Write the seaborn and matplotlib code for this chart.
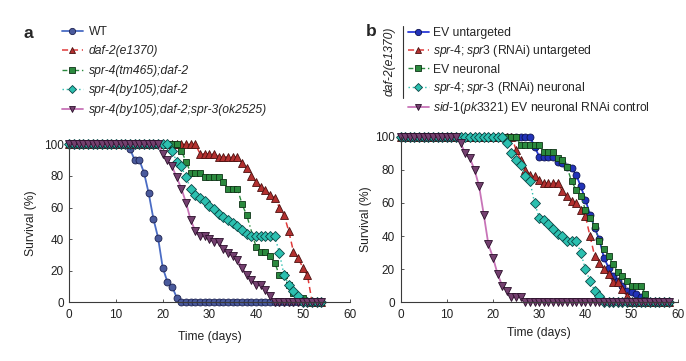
import matplotlib
matplotlib.use("Agg")
import matplotlib.pyplot as plt
import seaborn as sns
from matplotlib.lines import Line2D

sns.set_style("ticks")
plt.rcParams['font.family'] = ['Liberation Sans', 'DejaVu Sans']
plt.rcParams['mathtext.fontset'] = 'custom'
plt.rcParams['mathtext.rm'] = 'Liberation Sans'
plt.rcParams['mathtext.it'] = 'Liberation Sans:italic'
plt.rcParams['mathtext.bf'] = 'Liberation Sans:bold'

# ---------------- data: panel a ----------------
days_a = list(range(0, 55))
days_a_tm465 = list(range(0, 39)) + list(range(40, 55))

wt_surv = [100] * 13 + [97, 90, 90, 82, 69, 53, 41, 22, 13, 10, 3] + [0] * 31
daf2_surv = ([100] * 28 + [94] * 4 + [92] * 5 +
             [88, 85, 80, 76, 73, 71, 68, 66, 60, 55, 45, 32, 28, 22, 17] + [0] * 3)
tm465_surv = ([100] * 24 +
              [96, 89, 82, 82, 82, 79, 79, 79, 79, 76, 72, 72, 72, 62, 55] +
              [35, 32, 32, 29, 25, 17, 17, 11, 6, 3, 3] + [0] * 4)
by105_surv = ([100] * 22 +
              [96, 89, 86, 79, 72, 68, 66, 64, 61, 59, 56, 54, 52, 50, 48, 46, 43] +
              [42] * 6 + [31, 17, 11, 7, 4] + [0] * 5)
spr3_surv = ([100] * 20 +
             [94, 90, 86, 79, 72, 63, 52, 45, 42, 42, 40, 38, 38, 34, 31, 29, 27, 22,
              17, 14, 11, 11, 8, 4] + [0] * 11)

labels_a = ["WT", "daf-2(e1370)", "spr-4(tm465);daf-2", "spr-4(by105);daf-2",
            "spr-4(by105);daf-2;spr-3(ok2525)"]

# ---------------- data: panel b ----------------
days_b = list(range(0, 59))
ev_unt_surv = ([100] * 29 +
               [94, 88, 88, 88, 88, 85, 84, 82, 81, 77, 70, 62, 53, 45, 38, 27, 21, 16,
                13, 10, 7, 6, 5, 3] + [0] * 6)
rnai_unt_surv = ([100] * 25 +
                 [92, 86, 80, 77, 76, 74, 72, 72, 72, 72, 67, 64, 61, 60, 56, 52, 40, 28,
                  24, 20, 17, 12, 12, 8, 4] + [0] * 9)
ev_neu_surv = ([100] * 26 + [95] * 5 + [91] * 3 +
               [87, 86, 82, 73, 68, 64, 56, 51, 46, 37, 32, 28, 23, 18, 16, 13] +
               [10] * 3 + [5] + [0] * 5)
rnai_neu_surv = ([100] * 23 +
                 [96, 90, 86, 83, 76, 73, 60, 51, 50, 47, 44, 41, 40] +
                 [37] * 3 + [30, 20, 13, 7, 4] + [0] * 15)
sid1_surv = ([100] * 13 +
             [96, 90, 87, 80, 70, 53, 35, 27, 17, 10, 7, 3, 3, 3] + [0] * 32)

labels_b = ["EV untargeted",
            r"$\mathit{spr}$-$\mathit{4;spr3}$ (RNAi) untargeted",
            "EV neuronal",
            r"$\mathit{spr}$-$\mathit{4;spr}$-$\mathit{3}$ (RNAi) neuronal",
            r"$\mathit{sid}$-$\mathit{1(pk3321)}$ EV neuronal RNAi control"]

# ---------------- styles ----------------
dashdot = (0, (3.5, 2, 1, 2))
styles_a = [
    dict(marker='o', markersize=5, markerfacecolor='#4a5a9c', markeredgecolor='#1c2150',
         color='#4a6cc4', linestyle='-', linewidth=1.3),
    dict(marker='^', markersize=5.5, markerfacecolor='#b3302f', markeredgecolor='#4a1010',
         color='#e03a3a', linestyle=(0, (4, 2.5)), linewidth=1.1),
    dict(marker='s', markersize=5, markerfacecolor='#2b8a3e', markeredgecolor='#0e3316',
         color='#2b8a3e', linestyle=dashdot, linewidth=1.0),
    dict(marker='D', markersize=4.6, markerfacecolor='#2cc0b0', markeredgecolor='#0b4444',
         color='#2cc0b0', linestyle=(0, (1, 2)), linewidth=1.0),
    dict(marker='v', markersize=5.5, markerfacecolor='#74406f', markeredgecolor='#2a0f2a',
         color='#c874b8', linestyle='-', linewidth=1.3),
]
styles_b = [
    dict(marker='o', markersize=5, markerfacecolor='#2233b8', markeredgecolor='#0c1250',
         color='#2a3ad8', linestyle='-', linewidth=1.3),
    dict(marker='^', markersize=5.5, markerfacecolor='#b3302f', markeredgecolor='#4a1010',
         color='#e03a3a', linestyle=(0, (4, 2.5)), linewidth=1.1),
    dict(marker='s', markersize=5, markerfacecolor='#2b8a3e', markeredgecolor='#0e3316',
         color='#2b8a3e', linestyle=dashdot, linewidth=1.0),
    dict(marker='D', markersize=4.6, markerfacecolor='#2cc0b0', markeredgecolor='#0b4444',
         color='#2cc0b0', linestyle=(0, (1, 2)), linewidth=1.0),
    dict(marker='v', markersize=5.5, markerfacecolor='#74406f', markeredgecolor='#2a0f2a',
         color='#c874b8', linestyle='-', linewidth=1.3),
]

series_a = [(days_a, wt_surv), (days_a, daf2_surv), (days_a_tm465, tm465_surv),
            (days_a, by105_surv), (days_a, spr3_surv)]
series_b = [(days_b, ev_unt_surv), (days_b, rnai_unt_surv), (days_b, ev_neu_surv),
            (days_b, rnai_neu_surv), (days_b, sid1_surv)]

# ---------------- figure ----------------
W, H = 686, 361
fig = plt.figure(figsize=(W / 100, H / 100), dpi=100)


def px_axes(x0, x1, ytop, ybot):
    return fig.add_axes([x0 / W, (H - ybot) / H, (x1 - x0) / W, (ybot - ytop) / H])


ax_a = px_axes(69.3, 349.5, 144.3, 302.3)
ax_b = px_axes(400.6, 677.8, 136.7, 302.3)

for ax, series, styles in [(ax_a, series_a, styles_a), (ax_b, series_b, styles_b)]:
    for (d, s), st in zip(series, styles):
        sns.lineplot(x=d, y=s, ax=ax, estimator=None, sort=False, errorbar=None,
                     legend=False, markeredgewidth=0.6, clip_on=False, **st)
    ax.set_xlim(0, 60)
    ax.set_ylim(0, 100)
    ax.set_xticks(range(0, 61, 10))
    ax.set_yticks(range(0, 101, 20))
    sns.despine(ax=ax)
    for sp in ("left", "bottom"):
        ax.spines[sp].set_color('#3a3a3a')
        ax.spines[sp].set_linewidth(0.8)
    ax.tick_params(direction='in', length=2.5, width=0.6, labelsize=8.5,
                   color='#3a3a3a', labelcolor='#222222')
    ax.tick_params(axis='x', pad=5)
    ax.tick_params(axis='y', pad=4)
    ax.set_xlabel("Time (days)", fontsize=8.7, color='#222222')
    ax.set_ylabel("Survival (%)", fontsize=8.7, color='#222222')

ax_a.xaxis.labelpad = 7
ax_a.yaxis.labelpad = 5
ax_b.xaxis.labelpad = 4
ax_b.yaxis.labelpad = 2

# legends
leg_a = fig.legend(ax_a.lines[:5], labels_a, loc='upper left',
                   bbox_to_anchor=(62 / W, 1 - 26 / H), frameon=False, fontsize=8.7,
                   handlelength=1.7, handletextpad=0.5, labelspacing=0.62,
                   borderpad=0, borderaxespad=0, numpoints=1, markerscale=0.9)
for t in leg_a.get_texts()[1:]:
    t.set_fontstyle('italic')

leg_b = fig.legend(ax_b.lines[:5], labels_b, loc='upper left',
                   bbox_to_anchor=(408 / W, 1 - 27 / H), frameon=False, fontsize=8.7,
                   handlelength=1.7, handletextpad=0.35, labelspacing=0.36,
                   borderpad=0, borderaxespad=0, numpoints=1, markerscale=0.9)

fig.add_artist(Line2D([403 / W, 403 / W], [1 - 26 / H, 1 - 98 / H],
                      transform=fig.transFigure, color='#333333', linewidth=0.8))
fig.text(390 / W, 1 - 61 / H, "daf-2(e1370)", rotation=90, style='italic',
         ha='center', va='center', fontsize=8.7, color='#222222')

fig.text(28 / W, 1 - 33 / H, "a", fontsize=12.5, fontweight='bold', ha='center', va='center')
fig.text(371 / W, 1 - 31 / H, "b", fontsize=12.5, fontweight='bold', ha='center', va='center')

fig.savefig("out.png", dpi=100)
